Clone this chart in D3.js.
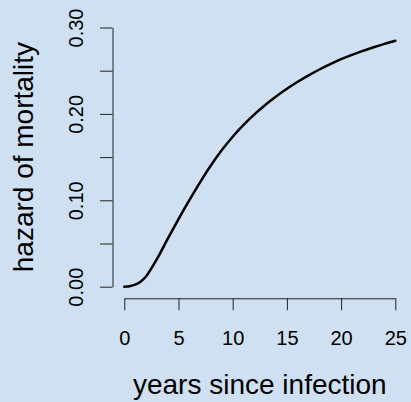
<!DOCTYPE html>
<html>
<head>
<meta charset="utf-8">
<script src="https://cdn.jsdelivr.net/npm/d3@7"></script>
<style>
  body { margin: 0; background: #cfe0f2; }
  svg { display: block; }
  text { font-family: "Liberation Sans", Arial, Helvetica, sans-serif; fill: #000; }
</style>
</head>
<body>
<div id="plot"></div>
<script>
// years since infection
const years = [0, 0.5, 1, 1.5, 2, 3, 4, 5, 6, 7, 8, 9, 10, 11, 12, 13, 14, 15, 16, 17, 18, 19, 20, 21, 22, 23, 24, 25];
// hazard of mortality at those years
const hazard = [0, 0.0006, 0.0023, 0.0058, 0.0118, 0.0318, 0.0553, 0.0781, 0.1001, 0.1211, 0.1406, 0.1581, 0.1736, 0.1873, 0.1995, 0.2104, 0.2202, 0.2291, 0.2372, 0.2446, 0.2514, 0.2576, 0.2633, 0.2683, 0.2729, 0.2771, 0.2810, 0.2846];

const xTicks = [0, 5, 10, 15, 20, 25];
const yTicks = [0, 0.05, 0.10, 0.15, 0.20, 0.25, 0.30];
const yTickLabels = ["0.00", "", "0.10", "", "0.20", "", "0.30"];

const width = 411, height = 402;

const svg = d3.select("#plot").append("svg")
    .attr("width", width)
    .attr("height", height);

svg.append("rect")
    .attr("width", width)
    .attr("height", height)
    .attr("fill", "#cfe0f2");

// Scales
const x = d3.scaleLinear().domain([0, 25]).range([124.3, 395.3]);
const y = d3.scaleLinear().domain([0, 0.30]).range([286.7, 27.5]);

// x axis
const gx = svg.append("g")
    .attr("transform", "translate(0,298.3)")
    .call(d3.axisBottom(x).tickValues(xTicks).tickSize(12).tickSizeOuter(0).tickFormat(d3.format("d")));

gx.selectAll("text")
    .attr("y", 47)
    .attr("dy", null)
    .style("font-size", "20px");

// y axis
const gy = svg.append("g")
    .attr("transform", "translate(112.5,0)")
    .call(d3.axisLeft(y).tickValues(yTicks).tickSize(12.5).tickSizeOuter(0)
        .tickFormat((d, i) => yTickLabels[i]));

gy.selectAll("text")
    .attr("x", null)
    .attr("dy", null)
    .attr("text-anchor", "middle")
    .attr("transform", "translate(-30,0) rotate(-90)")
    .style("font-size", "20px");

svg.selectAll(".domain, .tick line")
    .attr("stroke", "#222")
    .attr("stroke-width", 1);

// Curve
const line = d3.line()
    .x((d, i) => x(years[i]))
    .y(d => y(d))
    .curve(d3.curveCatmullRom);

svg.append("path")
    .datum(hazard)
    .attr("d", line)
    .attr("fill", "none")
    .attr("stroke", "#000")
    .attr("stroke-width", 2.5)
    .attr("stroke-linecap", "round");

// Axis titles
svg.append("text")
    .attr("x", (x(0) + x(25)) / 2)
    .attr("y", 394)
    .attr("text-anchor", "middle")
    .style("font-size", "28px")
    .text("years since infection");

svg.append("text")
    .attr("transform", `translate(33,${(y(0) + y(0.30)) / 2}) rotate(-90)`)
    .attr("text-anchor", "middle")
    .style("font-size", "28px")
    .text("hazard of mortality");
</script>
</body>
</html>
